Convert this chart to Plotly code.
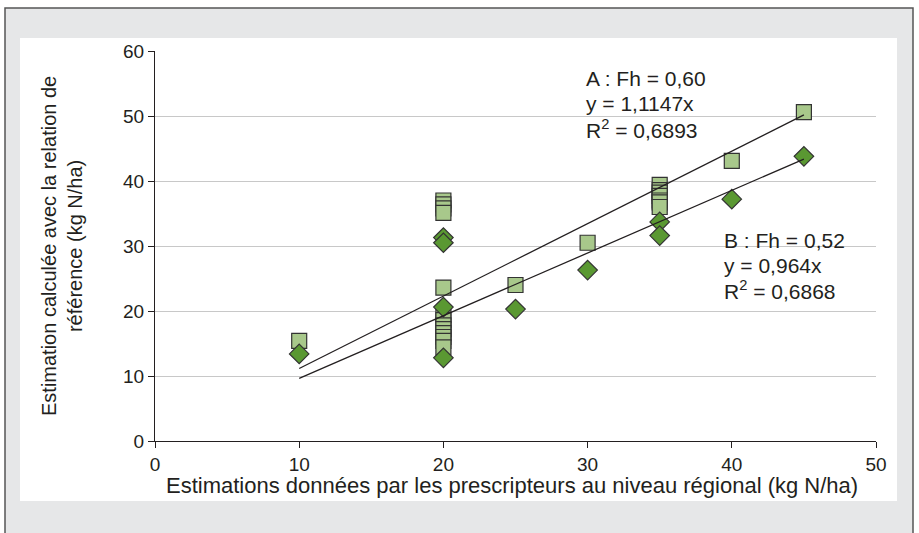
import plotly.graph_objects as go

# ---- data ----
xA = [10, 20, 20, 20, 20, 20, 20, 20, 20, 20, 20, 20, 20, 20, 25, 30,
      35, 35, 35, 35, 35, 35, 35, 40, 45]
yA = [15.4, 37.0, 36.4, 35.8, 35.1, 23.6, 19.4, 18.6, 17.8, 17.2, 16.6, 16.0, 15.4, 14.4, 24.0, 30.5,
      39.4, 38.6, 38.2, 37.7, 37.0, 36.7, 36.0, 43.1, 50.6]

xB = [10, 20, 20, 20, 20, 25, 30, 35, 35, 40, 45]
yB = [13.4, 31.3, 30.5, 20.6, 12.8, 20.3, 26.3, 33.7, 31.6, 37.2, 43.8]

slopeA = 1.1147
slopeB = 0.964
fit_x = [10, 45]

x_ticks = [0, 10, 20, 30, 40, 50]
y_ticks = [0, 10, 20, 30, 40, 50, 60]

labelA = ["A : Fh = 0,60", "y = 1,1147x", "R<sup>2</sup> = 0,6893"]
labelB = ["B : Fh = 0,52", "y = 0,964x", "R<sup>2</sup> = 0,6868"]

FONT = "Liberation Sans, Arial, sans-serif"
TXT = "#231f20"

W, H = 919, 533
L, R, T, B = 155, 876, 51, 441  # plot area in pixels


def px(p):
    return (p - L) / (R - L)


def py(p):
    return (B - p) / (B - T)


fig = go.Figure()

fig.add_trace(go.Scatter(
    x=xA, y=yA, mode="markers", showlegend=False,
    marker=dict(symbol="square", size=15, color="#a8c88b",
                line=dict(color="#333333", width=1.2))))

fig.add_trace(go.Scatter(
    x=xB, y=yB, mode="markers", showlegend=False,
    marker=dict(symbol="diamond", size=15, color="#5a9832",
                line=dict(color="#333333", width=1.2))))

fig.add_trace(go.Scatter(
    x=fit_x, y=[slopeA * v for v in fit_x], mode="lines", showlegend=False,
    line=dict(color="#231f20", width=1.3)))
fig.add_trace(go.Scatter(
    x=fit_x, y=[slopeB * v for v in fit_x], mode="lines", showlegend=False,
    line=dict(color="#231f20", width=1.3)))

shapes = [
    # outer frame
    dict(type="rect", xref="paper", yref="paper",
         x0=px(5), x1=px(913), y0=py(560), y1=py(8),
         fillcolor="#e6e7e8", line=dict(color="#555555", width=1.5), layer="below"),
    # white panel
    dict(type="rect", xref="paper", yref="paper",
         x0=px(20), x1=px(897), y0=py(501), y1=py(38),
         fillcolor="white", line=dict(width=0), layer="below"),
]

ANN = 21
annotations = []
for i, t in enumerate(labelA):
    annotations.append(dict(x=px(584), y=py(79 + 25 * i), xref="paper", yref="paper",
                            text=t, showarrow=False, xanchor="left", yanchor="middle",
                            font=dict(family=FONT, size=ANN, color=TXT)))
for i, t in enumerate(labelB):
    annotations.append(dict(x=px(722), y=py(240 + 25 * i), xref="paper", yref="paper",
                            text=t, showarrow=False, xanchor="left", yanchor="middle",
                            font=dict(family=FONT, size=ANN, color=TXT)))

annotations.append(dict(
    x=px(62), y=py(246), xref="paper", yref="paper", textangle=-90,
    text="Estimation calculée avec la relation de<br>référence (kg N/ha)",
    showarrow=False, xanchor="center", yanchor="middle",
    font=dict(family=FONT, size=20, color=TXT)))
annotations.append(dict(
    x=px(512), y=py(485), xref="paper", yref="paper",
    text="Estimations données par les prescripteurs au niveau régional (kg N/ha)",
    showarrow=False, xanchor="center", yanchor="middle",
    font=dict(family=FONT, size=22, color=TXT)))

fig.update_layout(
    width=W, height=H, autosize=False,
    margin=dict(l=L, r=W - R, t=T, b=H - B),
    paper_bgcolor="white", plot_bgcolor="rgba(0,0,0,0)",
    shapes=shapes, annotations=annotations,
    font=dict(family=FONT, size=19, color=TXT),
)

fig.update_xaxes(range=[0, 50], tickvals=x_ticks, showgrid=False, zeroline=False,
                 showline=True, linecolor="#231f20", linewidth=1.2,
                 ticks="outside", ticklen=6, tickcolor="#231f20",
                 tickfont=dict(family=FONT, size=19, color=TXT))
fig.update_yaxes(range=[0, 60], tickvals=y_ticks, showgrid=True, gridcolor="#c8c8c8",
                 gridwidth=1, zeroline=False,
                 showline=True, linecolor="#231f20", linewidth=1.2,
                 ticks="outside", ticklen=6, tickcolor="#231f20",
                 tickfont=dict(family=FONT, size=19, color=TXT))

fig.write_html("out.html", config={"displayModeBar": False},
               post_script="document.body.style.margin='0';")
